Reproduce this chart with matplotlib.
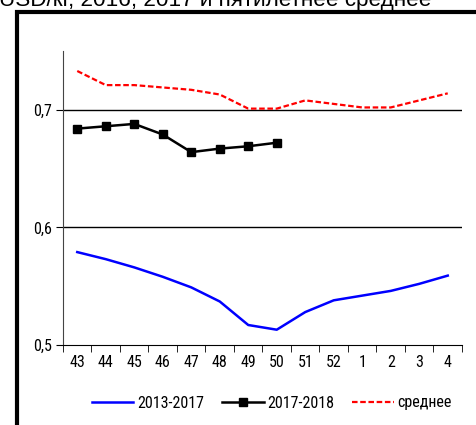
import matplotlib
matplotlib.use("Agg")
import matplotlib.pyplot as plt
from matplotlib.patches import Rectangle
from matplotlib import font_manager

weeks = ["43", "44", "45", "46", "47", "48", "49", "50", "51", "52", "1", "2", "3", "4"]
avg_2013_2017 = [0.579, 0.573, 0.566, 0.558, 0.549, 0.537, 0.517, 0.513, 0.528, 0.538, 0.542, 0.546, 0.552, 0.559]
s_2017_2018 = [0.684, 0.686, 0.688, 0.679, 0.664, 0.667, 0.669, 0.672]
mean5 = [0.733, 0.721, 0.721, 0.719, 0.717, 0.713, 0.701, 0.701, 0.708, 0.705, 0.702, 0.702, 0.708, 0.714]
yticks = [0.5, 0.6, 0.7]
ytick_labels = ["0,5", "0,6", "0,7"]
title = "USD/кг, 2016, 2017 и пятилетнее среднее"
legend_labels = ["2013-2017", "2017-2018", "среднее"]

fonts = [(f.name, f.stretch) for f in font_manager.fontManager.ttflist]
names = {n for n, s in fonts}
cands = ["Liberation Sans Narrow", "Roboto Condensed", "Open Sans Condensed", "Noto Sans Condensed"]
narrow = next((c for c in cands if c in names), None)
stretch = "normal"
if narrow is None:
    narrow = "DejaVu Sans"
    if any(n == "DejaVu Sans" and s == "condensed" for n, s in fonts):
        stretch = "condensed"
plt.rcParams['font.family'] = [narrow, 'DejaVu Sans']
plt.rcParams['font.stretch'] = stretch

W, H = 477, 425
fig = plt.figure(figsize=(W / 100, H / 100), dpi=100)

# outer frame (partially outside the image)
fig.patches.append(Rectangle((17 / W, -0.5), 2.0, 1 - 12 / H + 0.5, transform=fig.transFigure,
                             fill=False, edgecolor="black", linewidth=3, zorder=0))
fig.text(-1 / W, 1 - 6 / H, title, fontsize=16.2, family=["Liberation Sans", "DejaVu Sans"],
         fontstretch="normal", va="baseline", ha="left")

ax = fig.add_axes([63 / W, 1 - 345 / H, (462 - 63) / W, (345 - 51) / H])
x = list(range(len(weeks)))
ax.plot(x, avg_2013_2017, color="#0000ff", lw=1.8, label=legend_labels[0])
ax.plot(x[:len(s_2017_2018)], s_2017_2018, color="black", lw=1.8, marker="s", ms=6,
        label=legend_labels[1])
ax.plot(x, mean5, color="#ff0000", lw=1.6, ls=(0, (2.5, 1.2)), label=legend_labels[2])

ax.set_xlim(-0.5, len(weeks) - 0.5)
ax.set_ylim(0.5, 0.75)
ax.set_yticks(yticks)
ax.set_yticklabels(ytick_labels)
ax.set_xticks(x)
ax.set_xticklabels(weeks)
ax.set_xticks([i - 0.5 for i in range(len(weeks) + 1)], minor=True)
ax.tick_params(axis="x", which="major", length=0, pad=7, labelsize=11.5)
ax.tick_params(axis="x", which="minor", length=5, direction="out")
ax.tick_params(axis="y", length=5, direction="out", labelsize=11.5, pad=3)
for yv in [0.6, 0.7]:
    ax.axhline(yv, color="black", lw=1, zorder=0)
for s in ["top", "right"]:
    ax.spines[s].set_visible(False)
ax.spines["left"].set_color("#444444")
ax.spines["bottom"].set_color("black")

fig.legend(loc="center", bbox_to_anchor=(272 / W, 1 - 403 / H), ncol=3, frameon=False,
           fontsize=11.5, handlelength=2.6, columnspacing=1.1, handletextpad=0.25)

fig.savefig("out.png", dpi=100)
